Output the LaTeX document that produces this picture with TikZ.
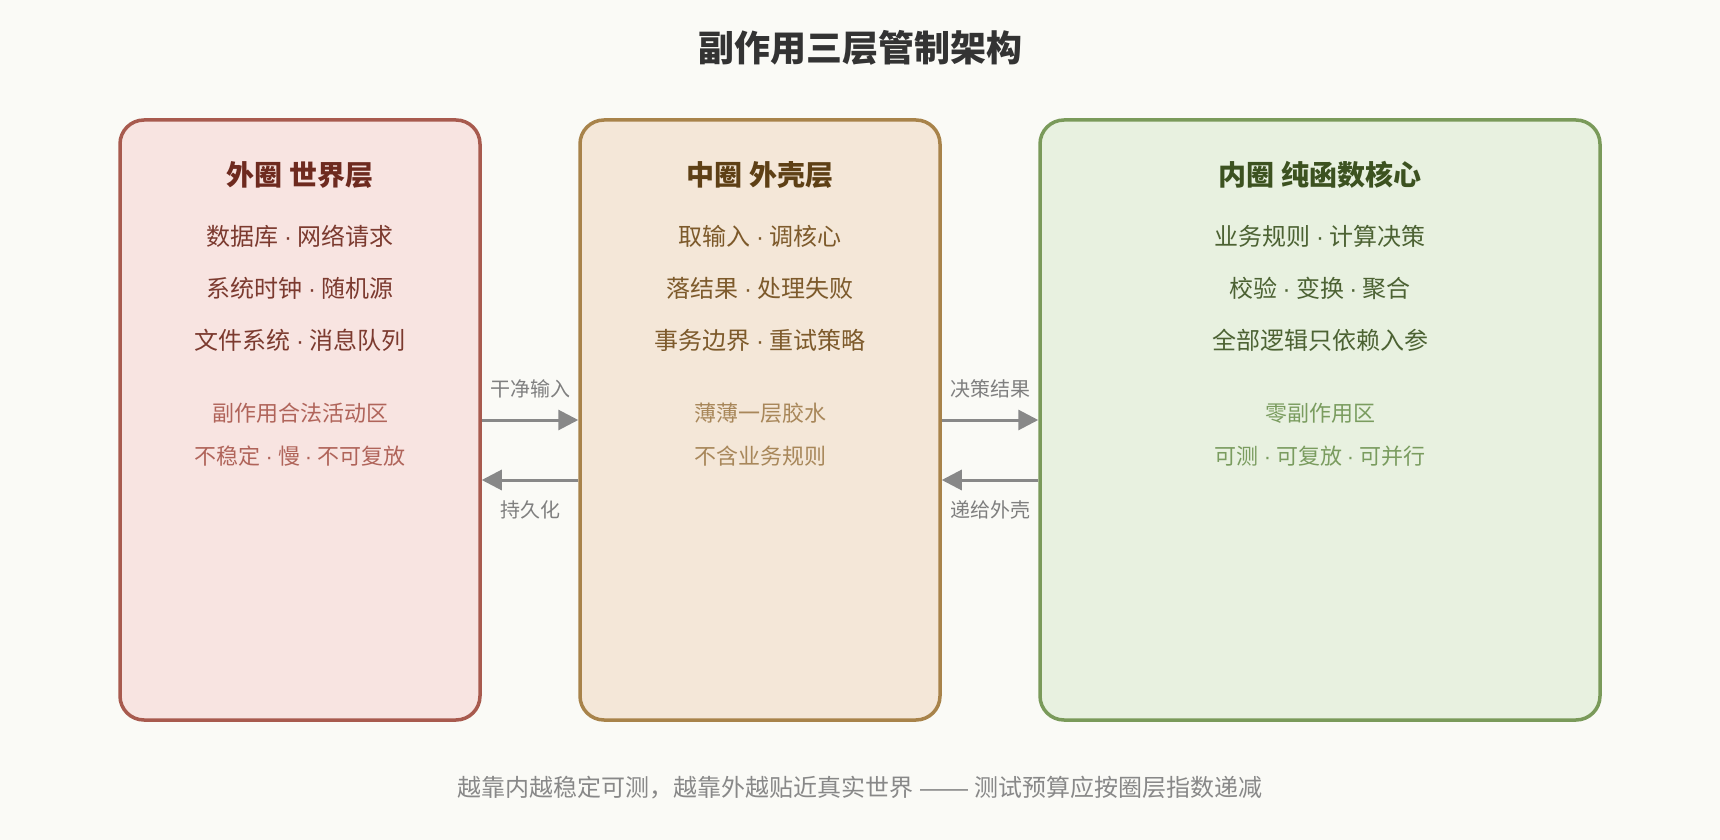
\documentclass[tikz,border=0pt]{standalone}
\usepackage{fontspec}
\setmainfont{Noto Sans CJK SC}
\newfontfamily\latinf{Liberation Sans}
\newcommand\mdt{ {\latinf·} }
\usetikzlibrary{arrows.meta}
\definecolor{bg}{HTML}{FAFAF6}
\definecolor{titlec}{HTML}{333333}
\definecolor{Ls}{HTML}{A85A4E}
\definecolor{Lf}{HTML}{F8E4E1}
\definecolor{Lt}{HTML}{6E2A1F}
\definecolor{Lm}{HTML}{7C3A2F}
\definecolor{Lsub}{HTML}{B0645A}
\definecolor{Ms}{HTML}{A8834A}
\definecolor{Mf}{HTML}{F4E7D8}
\definecolor{Mt}{HTML}{5E4015}
\definecolor{Mm}{HTML}{7D5A2B}
\definecolor{Msub}{HTML}{A8875A}
\definecolor{Rs}{HTML}{7A9A5A}
\definecolor{Rf}{HTML}{E8F1E0}
\definecolor{Rt}{HTML}{3C5220}
\definecolor{Rm}{HTML}{4C6233}
\definecolor{Rsub}{HTML}{7A9C5F}
\definecolor{lblc}{HTML}{7F7F7F}
\definecolor{arrc}{HTML}{888888}
\definecolor{footc}{HTML}{888888}
\begin{document}
\begin{tikzpicture}[x=0.5pt,y=-0.5pt,
  box/.style={draw, line width=1.75pt, rounded corners=12pt, minimum height=300pt, inner sep=0pt},
  ttl/.style={font=\fontsize{14pt}{16pt}\selectfont\bfseries, inner sep=0pt},
  mainl/.style={font=\fontsize{12pt}{14pt}\selectfont, inner sep=0pt},
  subl/.style={font=\fontsize{11pt}{13pt}\selectfont, inner sep=0pt},
  lbl/.style={font=\fontsize{10pt}{12pt}\selectfont, text=lblc, inner sep=0pt},
  arr/.style={draw=arrc, line width=1.5pt, -{Triangle[length=10pt,width=10pt]}},
]
\fill[bg] (0,0) rectangle (1720,840);
\node[font=\fontsize{18pt}{20pt}\selectfont\bfseries, text=titlec, inner sep=0pt] (title) at (860,48) {副作用三层管制架构};

\node[box, draw=Ls, fill=Lf, minimum width=180pt] (L) at (300,420) {};
\node[box, draw=Ms, fill=Mf, minimum width=180pt] (M) at (760,420) {};
\node[box, draw=Rs, fill=Rf, minimum width=280pt] (R) at (1320,420) {};

% left texts
\node[ttl, text=Lt] (Lt1) at (300,175) {外圈 世界层};
\node[mainl, text=Lm] (Lm1) at (300,236) {数据库\mdt 网络请求};
\node[mainl, text=Lm] (Lm2) at (300,288) {系统时钟\mdt 随机源};
\node[mainl, text=Lm] (Lm3) at (300,340) {文件系统\mdt 消息队列};
\node[subl, text=Lsub] (Ls1) at (300,413) {副作用合法活动区};
\node[subl, text=Lsub] (Ls2) at (300,456) {不稳定\mdt 慢\mdt 不可复放};

% middle texts
\node[ttl, text=Mt] (Mt1) at (760,175) {中圈 外壳层};
\node[mainl, text=Mm] (Mm1) at (760,236) {取输入\mdt 调核心};
\node[mainl, text=Mm] (Mm2) at (760,288) {落结果\mdt 处理失败};
\node[mainl, text=Mm] (Mm3) at (760,340) {事务边界\mdt 重试策略};
\node[subl, text=Msub] (Ms1) at (760,413) {薄薄一层胶水};
\node[subl, text=Msub] (Ms2) at (760,456) {不含业务规则};

% right texts
\node[ttl, text=Rt] (Rt1) at (1320,175) {内圈 纯函数核心};
\node[mainl, text=Rm] (Rm1) at (1320,236) {业务规则\mdt 计算决策};
\node[mainl, text=Rm] (Rm2) at (1320,288) {校验\mdt 变换\mdt 聚合};
\node[mainl, text=Rm] (Rm3) at (1320,340) {全部逻辑只依赖入参};
\node[subl, text=Rsub] (Rs1) at (1320,413) {零副作用区};
\node[subl, text=Rsub] (Rs2) at (1320,456) {可测\mdt 可复放\mdt 可并行};

% arrows
\coordinate (yf) at (0,420);
\coordinate (yb) at (0,480);
\draw[arr] (L.east |- yf) -- (M.west |- yf);
\draw[arr] (M.west |- yb) -- (L.east |- yb);
\draw[arr] (M.east |- yf) -- (R.west |- yf);
\draw[arr] (R.west |- yb) -- (M.east |- yb);
\node[lbl] (a1) at (530,389) {干净输入};
\node[lbl] (a2) at (530,510) {持久化};
\node[lbl] (a3) at (990,389) {决策结果};
\node[lbl] (a4) at (990,510) {递给外壳};

\node[font=\fontsize{12pt}{14pt}\selectfont, text=footc, inner sep=0pt] (foot) at (860,788) {越靠内越稳定可测，越靠外越贴近真实世界{\latinf\ ——\ }测试预算应按圈层指数递减};
\end{tikzpicture}
\end{document}
